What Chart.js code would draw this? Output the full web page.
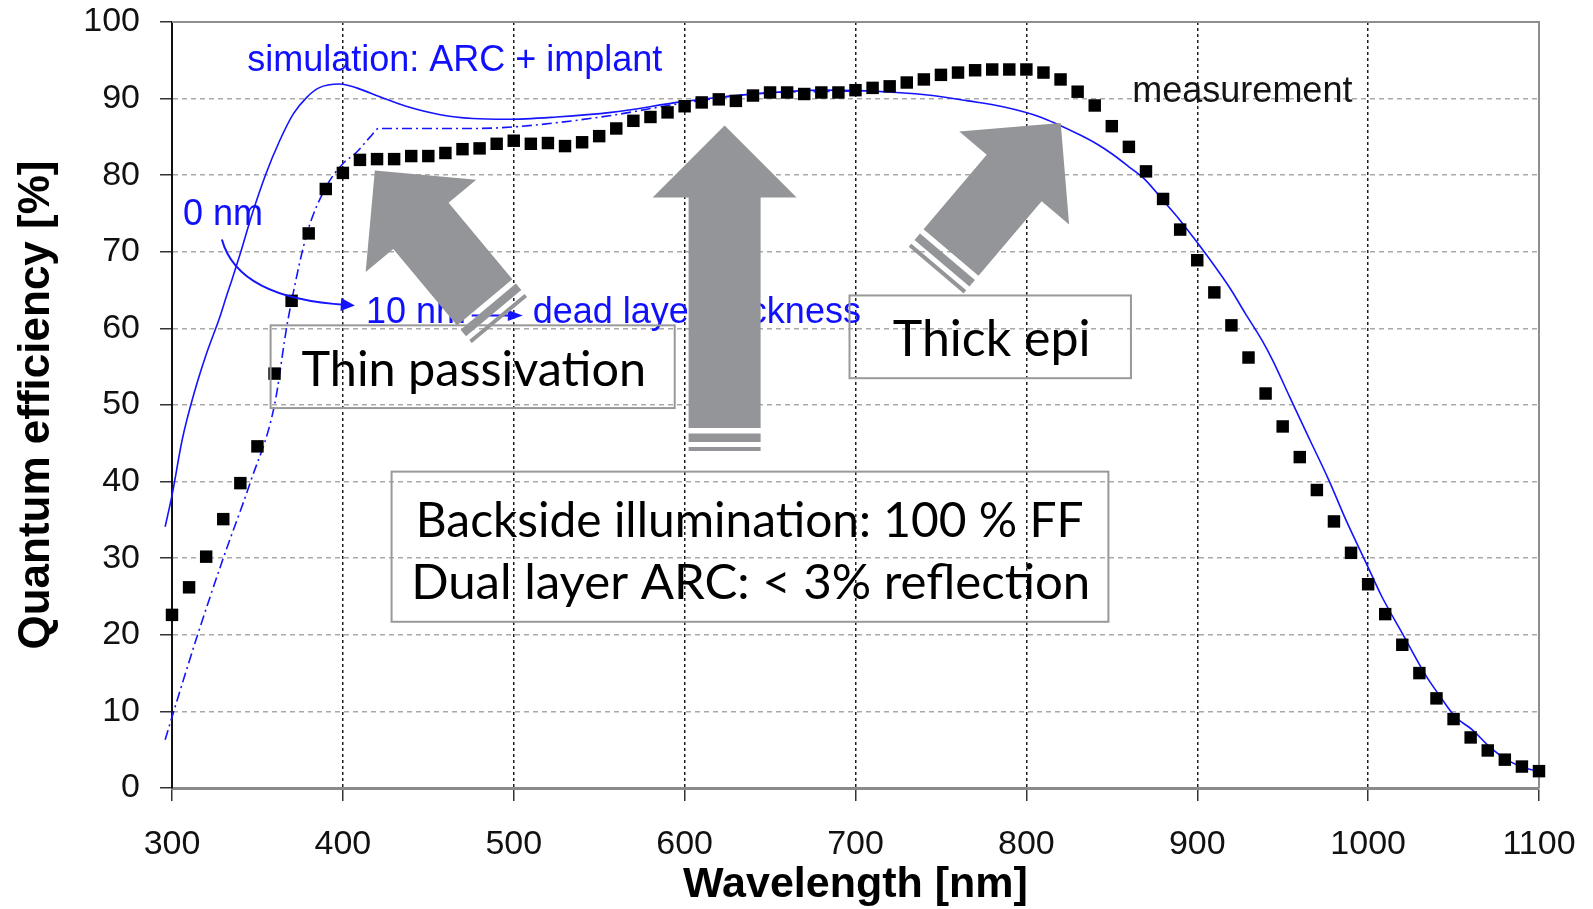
<!DOCTYPE html>
<html>
<head>
<meta charset="utf-8">
<script src="https://cdn.jsdelivr.net/npm/chart.js@4.4.1/dist/chart.umd.min.js"></script>
<style>
html,body{margin:0;padding:0;background:#fff;}
#wrap{width:1593px;height:909px;}
</style>
</head>
<body>
<div id="wrap"><canvas id="c" width="1593" height="909"></canvas></div>
<script>
// ---------------- data ----------------
const measWavelength = [300,310,320,330,340,350,360,370,380,390,400,410,420,430,440,450,460,470,480,490,500,510,520,530,540,550,560,570,580,590,600,610,620,630,640,650,660,670,680,690,700,710,720,730,740,750,760,770,780,790,800,810,820,830,840,850,860,870,880,890,900,910,920,930,940,950,960,970,980,990,1000,1010,1020,1030,1040,1050,1060,1070,1080,1090,1100];
const measQE = [22.6,26.2,30.2,35.1,39.8,44.6,54.1,63.6,72.4,78.2,80.3,82.0,82.1,82.1,82.5,82.5,82.9,83.4,83.5,84.1,84.5,84.1,84.2,83.8,84.3,85.1,86.1,87.1,87.6,88.2,89.0,89.5,89.9,89.7,90.4,90.8,90.8,90.6,90.8,90.8,91.1,91.4,91.6,92.1,92.5,93.1,93.4,93.7,93.8,93.8,93.8,93.4,92.5,90.9,89.1,86.4,83.7,80.5,76.9,72.9,68.9,64.7,60.4,56.2,51.5,47.2,43.2,38.9,34.8,30.7,26.6,22.7,18.7,15.0,11.7,9.0,6.6,4.9,3.7,2.8,2.2];

// simulation, 0 nm dead layer (solid)
const sim0Wavelength = [296,300,306,313,320,328,332,335,340,347,355,363,371,379,386,398,408,422,437,457,476,496,525,557,599,640,682,724,745,766,787,808,830,841,850,860,870,880,890,899,909,919,928,938,944,954,966,977,987,999,1008,1020,1034,1042,1051,1061,1071,1081,1092,1103];
const sim0QE = [34.1,38.2,45.5,51.6,56.6,61.5,64.3,66.3,69.8,75.0,80.2,84.5,88.0,90.2,91.4,91.9,91.4,90.2,89.0,87.9,87.4,87.3,87.6,88.2,89.6,90.6,91.1,90.8,90.4,89.7,88.9,87.6,85.4,84.1,82.8,81.1,79.3,76.7,74.1,71.5,68.5,65.3,62.0,58.4,55.9,51.1,45.4,40.2,35.0,29.3,25.0,20.2,14.6,12.0,9.3,7.6,5.4,3.7,2.6,2.0];

// simulation, 10 nm dead layer (dash-dot)
const sim10Wavelength = [296,301,315,330,346,360,367,370,379,390,400,408,416,421,437,476,500,527,557,596,640,700];
const sim10QE = [6.3,10.0,20.0,30.0,40.0,50.0,60.0,63.6,72.4,78.4,81.5,83.0,85.0,86.1,86.1,86.1,86.3,86.9,87.8,89.3,90.6,91.0];

const xTicks = [300,400,500,600,700,800,900,1000,1100];
const yTicks = [0,10,20,30,40,50,60,70,80,90,100];

// annotation anchors (data units)
const blueNotes = [
  {text: 'simulation: ARC + implant', x: 344.0, y: 93.66, color: '#1010ff'},
  {text: 'measurement', x: 862.0, y: 89.5, color: '#141414'},
  {text: '0 nm', x: 306.4, y: 73.45, color: '#1010ff'},
  {text: '10 nm', x: 413.5, y: 60.7, color: '#1010ff'},
  {text: 'dead layer thickness', x: 511.1, y: 60.7, color: '#1010ff'}
];
const curveArrow = {start: [329.2, 71.6], ctrl: [338.6, 63.9], end: [407.0, 63.0]};
const lineArrow = {start: [475.4, 61.7], end: [505.3, 61.7]};
const grayArrows = [
  {tip: [418.7, 80.6], tail: [483.0, 63.4]},
  {tip: [623.4, 86.5], tail: [623.4, 47.0]},
  {tip: [820.1, 86.8], tail: [755.9, 69.9]}
];
const boxNotes = [
  {x0: 357.7, x1: 594.2, y0: 60.4, y1: 49.6, lines: [{text: 'Thin passivation', a: 375.8, b: 575.6, y: 52.5}]},
  {x0: 696.5, x1: 861.2, y0: 64.3, y1: 53.5, lines: [{text: 'Thick epi', a: 721.8, b: 835.8, y: 56.4}]},
  {x0: 428.5, x1: 848.0, y0: 41.3, y1: 21.7, lines: [
    {text: 'Backside illumination: 100 % FF', a: 445.0, b: 832.7, y: 32.8},
    {text: 'Dual layer ARC: < 3% reflection', a: 442.3, b: 835.6, y: 24.7}]}
];

// ---------------- styles ----------------
const SANS = "'Liberation Sans', Arial, Helvetica, sans-serif";
const BOXFONT = "Lato, 'Open Sans', sans-serif";
const BLUE = '#1414ff';
const GRAY = '#939598';

function arrowHead(ctx, tip, ux, uy, len, half) {
  const px = -uy, py = ux;
  ctx.beginPath();
  ctx.moveTo(tip.x, tip.y);
  ctx.lineTo(tip.x - ux*len + px*half, tip.y - uy*len + py*half);
  ctx.lineTo(tip.x - ux*len - px*half, tip.y - uy*len - py*half);
  ctx.closePath();
  ctx.fill();
}

function blockArrow(ctx, tip, tail) {
  const dx = tail.x - tip.x, dy = tail.y - tip.y;
  const L = Math.hypot(dx, dy);
  const ux = dx / L, uy = dy / L, px = -uy, py = ux;
  const hl = 72, hw = 72, sw = 36;
  const P = (a, b) => [tip.x + ux*a + px*b, tip.y + uy*a + py*b];
  const poly = [P(0,0), P(hl,hw), P(hl,sw), P(L,sw), P(L,-sw), P(hl,-sw), P(hl,-hw)];
  ctx.fillStyle = GRAY;
  ctx.beginPath();
  poly.forEach((p, i) => i ? ctx.lineTo(p[0], p[1]) : ctx.moveTo(p[0], p[1]));
  ctx.closePath();
  ctx.fill();
  const stripes = [[5.5, 14], [19, 23]];
  for (const [s, e] of stripes) {
    const q = [P(L+s, sw), P(L+e, sw), P(L+e, -sw), P(L+s, -sw)];
    ctx.beginPath();
    q.forEach((p, i) => i ? ctx.lineTo(p[0], p[1]) : ctx.moveTo(p[0], p[1]));
    ctx.closePath();
    ctx.fill();
  }
}

const notesPlugin = {
  id: 'notes',
  beforeDatasetsDraw(chart) {
    const {ctx, chartArea: a} = chart;
    ctx.save();
    ctx.strokeStyle = '#8e8e8e';
    ctx.lineWidth = 2;
    ctx.beginPath();
    ctx.moveTo(a.left, a.top);
    ctx.lineTo(a.right, a.top);
    ctx.lineTo(a.right, a.bottom);
    ctx.stroke();
    ctx.restore();
  },
  afterDatasetsDraw(chart) {
    const {ctx} = chart;
    const xs = chart.scales.x, ys = chart.scales.y;
    const P = (x, y) => ({x: xs.getPixelForValue(x), y: ys.getPixelForValue(y)});
    ctx.save();
    // blue annotation texts
    ctx.font = `36px ${SANS}`;
    ctx.textAlign = 'left';
    ctx.textBaseline = 'alphabetic';
    for (const n of blueNotes) {
      const p = P(n.x, n.y);
      ctx.fillStyle = n.color;
      ctx.fillText(n.text, p.x, p.y);
    }
    // curved arrow 0 nm -> 10 nm
    ctx.strokeStyle = BLUE; ctx.fillStyle = BLUE; ctx.lineWidth = 2;
    const c0 = P(...curveArrow.start), c1 = P(...curveArrow.ctrl), c2 = P(...curveArrow.end);
    let tx = c2.x - c1.x, ty = c2.y - c1.y, tl = Math.hypot(tx, ty); tx /= tl; ty /= tl;
    ctx.beginPath();
    ctx.moveTo(c0.x, c0.y);
    ctx.quadraticCurveTo(c1.x, c1.y, c2.x - tx*8, c2.y - ty*8);
    ctx.stroke();
    arrowHead(ctx, c2, tx, ty, 14, 6.5);
    // straight arrow
    const l0 = P(...lineArrow.start), l1 = P(...lineArrow.end);
    ctx.beginPath(); ctx.moveTo(l0.x, l0.y); ctx.lineTo(l1.x - 8, l1.y); ctx.stroke();
    arrowHead(ctx, l1, 1, 0, 15, 5.5);
    // gray block arrows
    for (const g of grayArrows) blockArrow(ctx, P(...g.tip), P(...g.tail));
    // text boxes
    for (const b of boxNotes) {
      const p0 = P(b.x0, b.y0), p1 = P(b.x1, b.y1);
      ctx.strokeStyle = '#999999'; ctx.lineWidth = 2;
      ctx.strokeRect(p0.x, p0.y, p1.x - p0.x, p1.y - p0.y);
      ctx.fillStyle = '#000';
      ctx.textAlign = 'left';
      for (const ln of b.lines) {
        const pa = P(ln.a, ln.y), pb = P(ln.b, ln.y);
        ctx.font = `100px ${BOXFONT}`;
        const m = ctx.measureText(ln.text);
        const w = m.actualBoundingBoxLeft + m.actualBoundingBoxRight;
        const size = 100 * (pb.x - pa.x) / w;
        ctx.font = `${size.toFixed(2)}px ${BOXFONT}`;
        const m2 = ctx.measureText(ln.text);
        ctx.fillText(ln.text, pa.x + m2.actualBoundingBoxLeft, pa.y);
      }
    }
    ctx.restore();
  }
};

const edgeX = c => (c.tick && (c.tick.value === 300 || c.tick.value === 1100)) ? 'rgba(0,0,0,0)' : '#1e1e1e';
const edgeY = c => (c.tick && (c.tick.value === 0 || c.tick.value === 100)) ? 'rgba(0,0,0,0)' : '#a9a9a9';

new Chart(document.getElementById('c'), {
  type: 'line',
  data: {
    datasets: [
      {
        label: 'measurement',
        data: measWavelength.map((x, i) => ({x, y: measQE[i]})),
        showLine: false,
        pointStyle: 'rect',
        pointRadius: 8.8,
        pointBackgroundColor: '#000',
        pointBorderWidth: 0,
        clip: false,
        order: 0
      },
      {
        label: 'simulation 0 nm',
        data: sim0Wavelength.map((x, i) => ({x, y: sim0QE[i]})),
        borderColor: BLUE,
        borderWidth: 1.6,
        pointRadius: 0,
        fill: false,
        cubicInterpolationMode: 'monotone',
        clip: false,
        order: 1
      },
      {
        label: 'simulation 10 nm',
        data: sim10Wavelength.map((x, i) => ({x, y: sim10QE[i]})),
        borderColor: BLUE,
        borderWidth: 1.6,
        borderDash: [10, 4, 2, 4],
        pointRadius: 0,
        fill: false,
        cubicInterpolationMode: 'monotone',
        clip: false,
        order: 2
      }
    ]
  },
  options: {
    responsive: false,
    animation: false,
    devicePixelRatio: 1,
    layout: {padding: {top: 22, right: 54, left: 0, bottom: 0}},
    plugins: {legend: {display: false}, tooltip: {enabled: false}},
    scales: {
      x: {
        type: 'linear', min: 300, max: 1100,
        afterBuildTicks: s => { s.ticks = xTicks.map(v => ({value: v})); },
        afterFit: s => { s.height = 121; s.paddingLeft = 0; s.paddingRight = 0; },
        ticks: {font: {family: SANS, size: 34}, color: '#111', padding: 23, maxRotation: 0, autoSkip: false,
                callback: v => String(v)},
        grid: {color: edgeX, lineWidth: 1.5, tickColor: '#333', tickLength: 13, tickWidth: 1.5},
        border: {color: '#8a8a8a', width: 3, dash: [3, 3]},
        title: {display: true, text: 'Wavelength [nm]', color: '#000',
                font: {family: SANS, size: 43, weight: 'bold', lineHeight: 1.1}, padding: {top: 0, bottom: 0}}
      },
      y: {
        type: 'linear', min: 0, max: 100,
        afterBuildTicks: s => { s.ticks = yTicks.map(v => ({value: v})); },
        afterFit: s => { s.width = 172; s.paddingTop = 0; s.paddingBottom = 0; },
        ticks: {font: {family: SANS, size: 34}, color: '#111', padding: 20, callback: v => String(v)},
        grid: {color: edgeY, lineWidth: 1.5, tickColor: '#333', tickLength: 12, tickWidth: 1.5},
        border: {color: '#111', width: 2, dash: [5, 4]},
        title: {display: true, text: 'Quantum efficiency [%]', color: '#000',
                font: {family: SANS, size: 44, weight: 'bold', lineHeight: 1.2}, padding: {top: 10, bottom: 0}}
      }
    }
  },
  plugins: [notesPlugin]
});
</script>
</body>
</html>
